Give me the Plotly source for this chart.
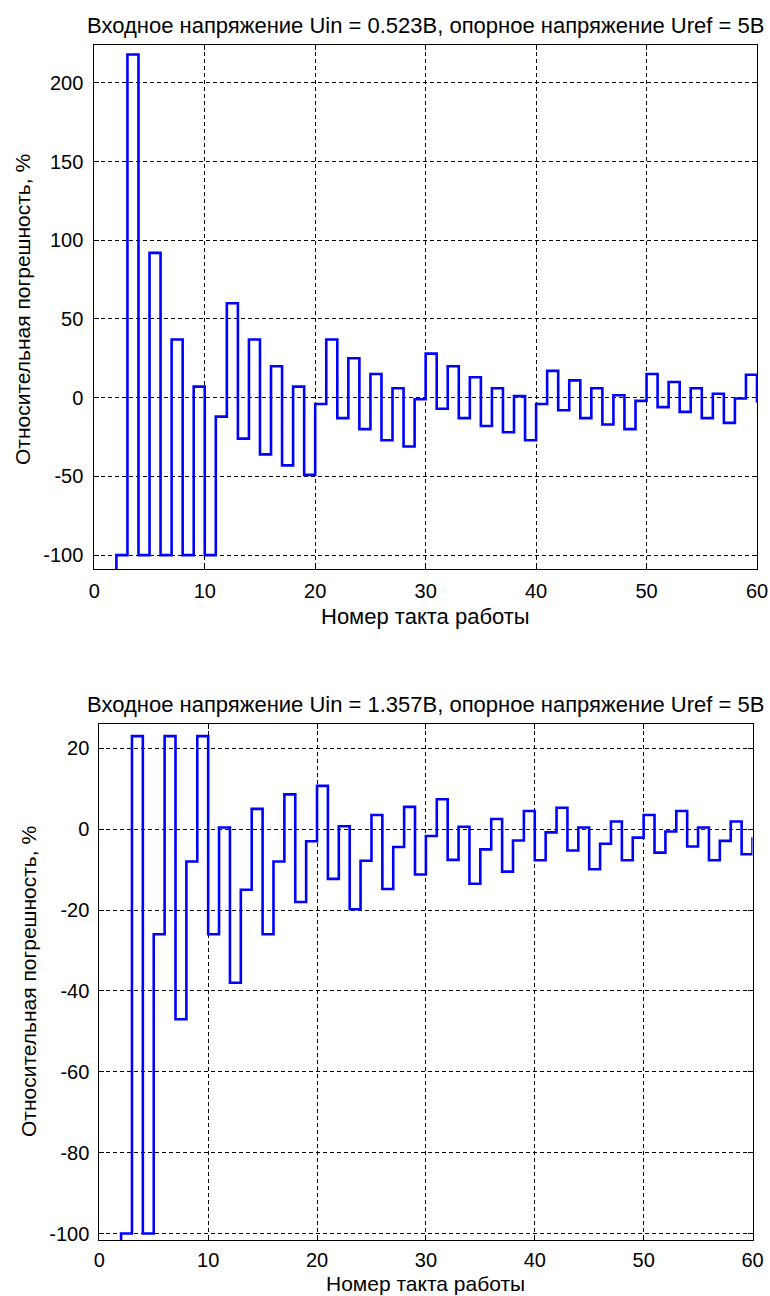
import plotly.graph_objects as go

W, H = 770, 1296

# ---- data ----
steps = list(range(1, 61))

err_top = [-150, -100, 218, -100, 92, -100, 37, -100, 7, -100,
           -12, 60, -26, 37, -36, 20, -43, 7, -49, -4,
           37, -13, 25, -20, 15, -27, 6, -31, -1, 28,
           -7, 20, -13, 13, -18, 6, -22, 1, -27, -4,
           17, -8, 11, -13, 6, -17, 1.5, -20, -2, 15,
           -6, 10, -9, 6, -13, 2.5, -16, -0.5, 14.6, -3]

err_bot = [-150, -100, 23, -100, -26, 23, -47, -8, 23, -26,
           0.4, -38, -15, 5, -26, -8, 8.6, -18, -3, 10.7,
           -12.3, 0.7, -19.8, -7.8, 3.5, -14.8, -4.4, 5.5, -11.2, -1.7,
           7.4, -7.6, 0.6, -13.5, -5, 2.5, -10.5, -2.8, 4.5, -7.7,
           -0.8, 5.3, -5.3, 0.4, -9.9, -3.6, 1.9, -7.7, -2.1, 3.5,
           -5.8, -0.6, 4.5, -4.3, 0.4, -7.7, -2.9, 1.9, -6.2, -2]

x_ticks = [0, 10, 20, 30, 40, 50, 60]
x_ticktext = ["0", "10", "20", "30", "40", "50", "60"]
y_ticks_top = [-100, -50, 0, 50, 100, 150, 200]
y_ticktext_top = ["-100", "-50", "0", "50", "100", "150", "200"]
y_ticks_bot = [-100, -80, -60, -40, -20, 0, 20]
y_ticktext_bot = ["-100", "-80", "-60", "-40", "-20", "0", "20"]

title_top = "Входное напряжение Uin = 0.523В, опорное напряжение Uref = 5В"
title_bot = "Входное напряжение Uin = 1.357В, опорное напряжение Uref = 5В"
xlabel = "Номер такта работы"
ylabel = "Относительная погрешность, %"

FONT = "Liberation Sans, Arial, sans-serif"
FS = 20


def px(x):
    return x / W


def py(y):
    return 1 - y / H


fig = go.Figure()
fig.add_trace(go.Scatter(x=steps, y=err_top, mode="lines",
                         line=dict(color="#0000FF", width=2.6, shape="hv"),
                         xaxis="x", yaxis="y", showlegend=False))
fig.add_trace(go.Scatter(x=steps, y=err_bot, mode="lines",
                         line=dict(color="#0000FF", width=2.6, shape="hv"),
                         xaxis="x2", yaxis="y2", showlegend=False))

axis_common = dict(
    showline=True, linecolor="black", linewidth=1, mirror="all",
    ticks="inside", ticklen=5, tickcolor="black", tickwidth=1,
    showgrid=True, gridcolor="black", griddash="4px,3px", gridwidth=1,
    zeroline=False, tickfont=dict(family=FONT, size=FS, color="black"),
    automargin=False, tickmode="array",
)

fig.update_layout(
    width=W, height=H, autosize=False,
    margin=dict(l=0, r=0, t=0, b=0),
    paper_bgcolor="white", plot_bgcolor="white",
    xaxis=dict(domain=[px(94.3), px(757)], range=[0, 60], tickvals=x_ticks,
               ticktext=x_ticktext, anchor="y", ticklabelstandoff=4, **axis_common),
    yaxis=dict(domain=[py(569.3), py(45)], range=[-109, 224], tickvals=y_ticks_top,
               ticktext=y_ticktext_top, anchor="x", ticklabelstandoff=6, **axis_common),
    xaxis2=dict(domain=[px(99.3), px(752.5)], range=[0, 60], tickvals=x_ticks,
                ticktext=x_ticktext, anchor="y2", ticklabelstandoff=2, **axis_common),
    yaxis2=dict(domain=[py(1240), py(724)], range=[-101.6, 26], tickvals=y_ticks_bot,
                ticktext=y_ticktext_bot, anchor="x2", ticklabelstandoff=5, **axis_common),
)

ann = [
    dict(text=title_top, x=px(425.6), y=py(25), size=22),
    dict(text=title_bot, x=px(426), y=py(704), size=22),
    dict(text=xlabel, x=px(425.6), y=py(616), size=22),
    dict(text=xlabel, x=px(426), y=py(1283), size=21),
    dict(text=ylabel, x=px(22), y=py(310), size=21, textangle=-90),
    dict(text=ylabel, x=px(28), y=py(982), size=21, textangle=-90),
]
for a in ann:
    s = a.pop("size")
    a.update(xref="paper", yref="paper", showarrow=False,
             xanchor="center", yanchor="middle",
             font=dict(family=FONT, size=s, color="black"))
fig.update_layout(annotations=ann)

fig.write_html("out.html")
